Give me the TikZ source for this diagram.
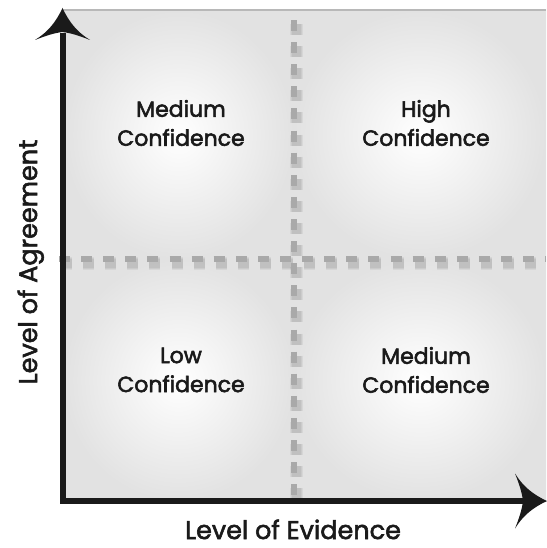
\documentclass[tikz,border=0pt]{standalone}
\usepackage{fontspec}
\setmainfont{Poppins}
\definecolor{qgray}{HTML}{E2E2E2}
\definecolor{dashgray}{HTML}{A9A9A9}
\definecolor{ink}{HTML}{1A1A1A}
\newcommand{\heavytext}[1]{\special{pdf:literal direct 2 Tr 0.55 w}#1\special{pdf:literal direct 0 Tr}}
\tikzset{
  quadlabel/.style={font=\fontsize{22}{29}\selectfont, align=center, text=ink},
  axislabel/.style={font=\fontsize{25.5}{30}\selectfont, text=ink, inner sep=0pt},
  axisline/.style={draw=ink, line width=6pt},
  dashline/.style={draw=dashgray, line width=6.5pt, dash pattern=on 11pt off 11.1pt},
  dashshadow/.style={draw=black, opacity=0.05, dash pattern=on 11pt off 11.1pt},
  arrowhead/.style={fill=ink, draw=none}
}
\begin{document}
\begin{tikzpicture}[x=1pt,y=-1pt]
\useasboundingbox[fill=white] (0,0) rectangle (546,548);
\coordinate (O) at (63,501);
\coordinate (TopEnd) at (63,33);
\coordinate (RightEnd) at (524,501);
\coordinate (Vtop) at (294,10);
\coordinate (Vbot) at (294,498);
\coordinate (Hleft) at (59,259);
\coordinate (Hright) at (546,259);
% quadrant backgrounds
\shade[inner color=white, outer color=qgray] (63,10) rectangle (294,259);
\shade[inner color=white, outer color=qgray] (294,10) rectangle (546,259);
\shade[inner color=white, outer color=qgray] (63,259) rectangle (294,501);
\shade[inner color=white, outer color=qgray] (294,259) rectangle (546,501);
% top border
\draw[draw=black!28, line width=2pt] (63,10) -- (546,10);
% dash shadows
\foreach \w in {13,11,9}{
  \draw[dashshadow, line width=\w pt, dash phase=12pt] ([shift={(2,4)}]Vtop) -- ([shift={(2,4)}]Vbot);
  \draw[dashshadow, line width=\w pt] ([shift={(2,4)}]Hleft) -- ([shift={(2,4)}]Hright);
}
% dashed dividers
\draw[dashline, dash phase=12pt] (Vtop) -- (Vbot);
\draw[dashline] (Hleft) -- (Hright);
% axes
\draw[axisline] ([yshift=3pt]O) -- (TopEnd);
\draw[axisline] ([xshift=-3pt]O) -- (RightEnd);
% arrowheads
\fill[arrowhead] (62.5,8) .. controls (56,22) and (48,32) .. (35,40)
  .. controls (45,36) and (54,33) .. (62.5,32)
  .. controls (71,33) and (80,36) .. (90,40)
  .. controls (77,32) and (69,22) .. (62.5,8) -- cycle;
\fill[arrowhead] (547,501) .. controls (533,494.5) and (523,486.5) .. (515,473.5)
  .. controls (519,483.5) and (522,492.5) .. (523,501)
  .. controls (522,509.5) and (519,518.5) .. (515,528.5)
  .. controls (523,515.5) and (533,507.5) .. (547,501) -- cycle;
% labels
\node[quadlabel] (ml) at (181,123) {\heavytext{Medium}\\\heavytext{Confidence}};
\node[quadlabel] (hc) at (426,123) {\heavytext{High}\\\heavytext{Confidence}};
\node[quadlabel] (lc) at (181,370) {\heavytext{Low}\\\heavytext{Confidence}};
\node[quadlabel] (mr) at (426,370) {\heavytext{Medium}\\\heavytext{Confidence}};
\node[axislabel, anchor=base] (xl) at (293,539) {\heavytext{Level of Evidence}};
\node[axislabel, rotate=90, anchor=base] (yl) at (37,262) {\heavytext{Level of Agreement}};
\end{tikzpicture}
\end{document}
